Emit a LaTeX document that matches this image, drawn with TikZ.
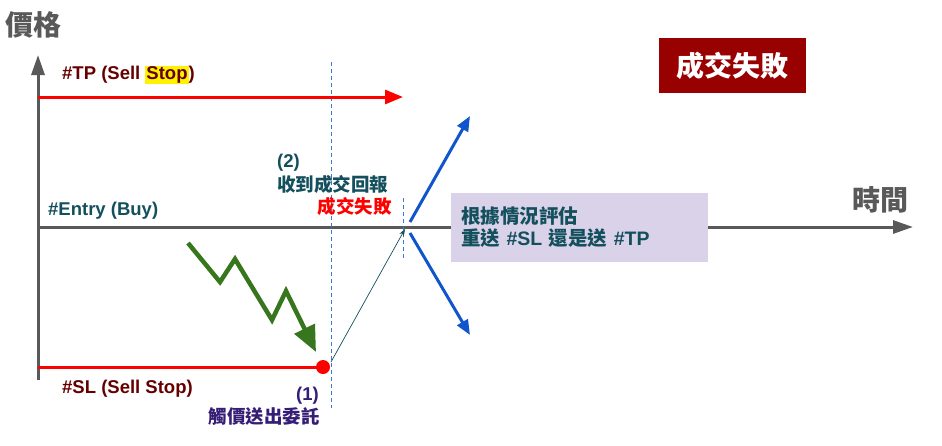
\documentclass[tikz,border=0pt]{standalone}
\usepackage{fontspec}
\setmainfont{Liberation Sans}
\newfontfamily\cjk{Noto Sans CJK TC}
\usetikzlibrary{arrows.meta}
\definecolor{axisgray}{HTML}{595959}
\definecolor{levelred}{HTML}{FF0000}
\definecolor{lbldark}{HTML}{660000}
\definecolor{lblteal}{HTML}{134F5C}
\definecolor{lblpurple}{HTML}{351C75}
\definecolor{trendgreen}{HTML}{38761D}
\definecolor{pathblue}{HTML}{1155CC}
\definecolor{guideblue}{HTML}{3C78D8}
\definecolor{boxlilac}{HTML}{D9D2E9}
\definecolor{failred}{HTML}{990000}
\newcommand{\lblsize}{\fontsize{18.5}{22}\selectfont}
\newcommand{\bigsize}{\fontsize{28}{32}\selectfont}
\begin{document}
\begin{tikzpicture}[x=1pt,y=-1pt,
    lbl/.style={inner sep=0pt,anchor=west,font=\bfseries\lblsize},
    cn/.style={lbl,font=\cjk\bfseries\lblsize},
    axis/.style={axisgray,line width=3pt,-{Triangle[length=20pt,width=13pt]}},
    level/.style={levelred,line width=3pt},
    guide/.style={guideblue,dashed,dash pattern=on 4pt off 3pt,line width=0.6pt},
    branch/.style={pathblue,line width=3pt,-{Triangle[length=15pt,width=12pt]}}]
  \useasboundingbox (0,0) rectangle (942,445);
  % axes
  \coordinate (o) at (38,380);
  \coordinate (ytop) at (38,55);
  \coordinate (ent) at (38,227);
  \coordinate (xend) at (913,227);
  \draw[axis] (o) -- (ytop);
  \draw[axis] (ent) -- (xend);
  \node[cn,axisgray,font=\cjk\bfseries\bigsize] (price) at (5,25) {價格};
  \node[cn,axisgray,font=\cjk\bfseries\bigsize] (time) at (852,200) {時間};
  % guide lines
  \coordinate (g1top) at (331,62);
  \coordinate (g1bot) at (331,408);
  \coordinate (g2top) at (403,198);
  \coordinate (g2bot) at (403,258);
  \draw[guide] (g1top) -- (g1bot);
  \draw[guide] (g2top) -- (g2bot);
  % levels
  \coordinate (tp0) at (38,97);
  \coordinate (tp1) at (403,97);
  \draw[level,-{Triangle[length=18pt,width=14pt]}] (tp0) -- (tp1);
  \coordinate (sl0) at (38,367);
  \coordinate (hit) at (323,367);
  \draw[level] (sl0) -- (hit);
  \fill[levelred] (hit) circle (7pt);
  \node[lbl,lbldark] (tplbl) at (62,75) {\#TP (Sell {\fboxsep=1pt\colorbox{yellow}{Stop}})};
  \node[lbl,lbldark] (sllbl) at (62,389) {\#SL (Sell Stop)};
  \node[lbl,lblteal] (entlbl) at (48,211) {\#Entry (Buy)};
  % price path
  \draw[trendgreen,line width=4.5pt,miter limit=4,-{Triangle[length=26pt,width=22pt]}]
    (188,243) -- (220,282) -- (235,259) -- (272,320) -- (286,291) -- (316,352);
  \coordinate (send) at (331,362);
  \coordinate (fill) at (405,229);
  \draw[lblteal,line width=0.7pt,-{Stealth[length=7pt,width=5pt]}] (send) -- (fill);
  \coordinate (up0) at (410,222);
  \coordinate (up1) at (470,116);
  \coordinate (dn0) at (410,233);
  \coordinate (dn1) at (470,335);
  \draw[branch] (up0) -- (up1);
  \draw[branch] (dn0) -- (dn1);
  % notes
  \node[lbl,lblpurple,anchor=east] (n1) at (319,396) {(1)};
  \node[cn,lblpurple,anchor=east] (n1txt) at (320,416) {觸價送出委託};
  \node[lbl,lblteal] (n2) at (277,163) {(2)};
  \node[cn,lblteal] (n2txt) at (277,184) {收到成交回報};
  \node[cn,levelred,anchor=east] (n2fail) at (392,206) {成交失敗};
  \node[fill=boxlilac,minimum width=257pt,minimum height=69pt,text width=237pt,
    align=left,inner xsep=10pt,inner ysep=0pt,text=lblteal,
    font=\bfseries\fontsize{19.5}{22}\selectfont] (eval) at (579.5,227.5)
    {{\cjk 根據情況評估}\\{\cjk 重送} \#SL {\cjk 還是送} \#TP};
  \node[fill=failred,text=white,minimum width=147pt,minimum height=55pt,
    font=\cjk\bfseries\bigsize] (fail) at (732.5,65.5) {成交失敗};
\end{tikzpicture}
\end{document}
